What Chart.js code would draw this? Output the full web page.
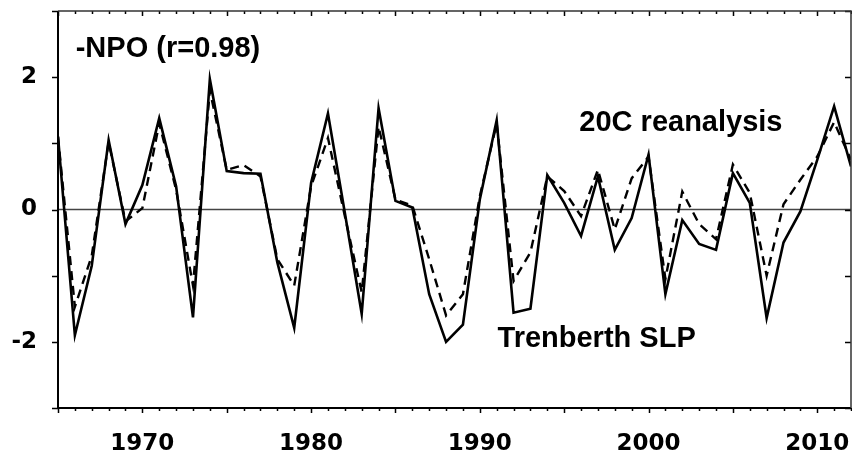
<!DOCTYPE html>
<html>
<head>
<meta charset="utf-8">
<script src="https://cdn.jsdelivr.net/npm/chart.js@4/dist/chart.umd.min.js"></script>
<style>
  html, body { margin: 0; padding: 0; background: #ffffff; }
  #npo-chart { display: block; }
</style>
</head>
<body>
<canvas id="npo-chart" width="852" height="459"></canvas>
<script>
// years on the x axis
var years = [1965, 1966, 1967, 1968, 1969, 1970, 1971, 1972, 1973, 1974,
             1975, 1976, 1977, 1978, 1979, 1980, 1981, 1982, 1983, 1984,
             1985, 1986, 1987, 1988, 1989, 1990, 1991, 1992, 1993, 1994,
             1995, 1996, 1997, 1998, 1999, 2000, 2001, 2002, 2003, 2004,
             2005, 2006, 2007, 2008, 2009, 2010, 2011, 2012];

// solid line
var trenberth_slp = [1.10, -1.90, -0.85, 1.05, -0.22, 0.37, 1.38, 0.35, -1.63, 1.97,
                     0.58, 0.55, 0.54, -0.80, -1.79, 0.40, 1.45, -0.05, -1.58, 1.53,
                     0.13, 0.03, -1.28, -2.00, -1.74, 0.15, 1.35, -1.56, -1.50, 0.52,
                     0.10, -0.40, 0.50, -0.61, -0.13, 0.83, -1.28, -0.16, -0.52, -0.61,
                     0.55, 0.10, -1.64, -0.50, -0.03, 0.75, 1.56, 0.65];

// dashed line
var reanalysis_20c = [1.10, -1.47, -0.70, 1.02, -0.18, 0.02, 1.30, 0.30, -1.15, 1.80,
                      0.60, 0.67, 0.50, -0.75, -1.15, 0.35, 1.08, -0.10, -1.25, 1.25,
                      0.15, 0.06, -0.75, -1.60, -1.28, 0.20, 1.30, -1.08, -0.65, 0.50,
                      0.28, -0.10, 0.60, -0.30, 0.47, 0.80, -1.05, 0.27, -0.22, -0.45,
                      0.68, 0.25, -1.00, 0.08, 0.45, 0.80, 1.32, 0.75];

var x_labels = [1970, 1980, 1990, 2000, 2010];
var y_labels = [-2, 0, 2];

// text written inside the plot, placed in data units
var notes = [
    { text: "-NPO (r=0.98)", x: 1966.05, y: 2.31 },
    { text: "20C reanalysis", x: 1995.9, y: 1.19 },
    { text: "Trenberth SLP", x: 1991.05, y: -2.08 }
];

function toPoints(values) {
    var pts = [];
    for (var i = 0; i < years.length; i++) {
        pts.push({ x: years[i], y: values[i] });
    }
    return pts;
}

function noPadding(scale) {
    scale.paddingTop = 0;
    scale.paddingBottom = 0;
    scale.paddingLeft = 0;
    scale.paddingRight = 0;
}

// ticks, zero line, frame and notes
var decorations = {
    id: "decorations",
    beforeDatasetsDraw: function (chart) {
        var ctx = chart.ctx;
        var a = chart.chartArea;
        var y0 = chart.scales.y.getPixelForValue(0);
        ctx.save();
        ctx.strokeStyle = "#444444";
        ctx.lineWidth = 1.5;
        ctx.beginPath();
        ctx.moveTo(a.left, y0);
        ctx.lineTo(a.right, y0);
        ctx.stroke();
        ctx.restore();
    },
    afterDraw: function (chart) {
        var ctx = chart.ctx;
        var a = chart.chartArea;
        var xs = chart.scales.x;
        var ys = chart.scales.y;
        ctx.save();
        ctx.strokeStyle = "#000000";
        ctx.lineWidth = 1.5;
        ctx.beginPath();
        for (var yr = xs.min; yr <= xs.max; yr++) {
            var px = Math.round(xs.getPixelForValue(yr)) + 0.5;
            var len = (yr % 5 === 0) ? 5 : 3;
            ctx.moveTo(px, a.bottom);
            ctx.lineTo(px, a.bottom + len);
            ctx.moveTo(px, a.top);
            ctx.lineTo(px, a.top + len);
        }
        for (var v = ys.min; v <= ys.max; v++) {
            var py = Math.round(ys.getPixelForValue(v)) + 0.5;
            ctx.moveTo(a.left - 6, py);
            ctx.lineTo(a.left, py);
            ctx.moveTo(a.right - 6, py);
            ctx.lineTo(a.right, py);
        }
        ctx.stroke();

        // frame
        ctx.lineWidth = 2;
        ctx.strokeStyle = "#000000";
        ctx.beginPath();
        ctx.moveTo(a.left, a.top);
        ctx.lineTo(a.left, a.bottom);
        ctx.lineTo(a.right, a.bottom);
        ctx.stroke();
        ctx.strokeStyle = "#333333";
        ctx.lineWidth = 1.5;
        ctx.beginPath();
        ctx.moveTo(a.left, a.top);
        ctx.lineTo(a.right, a.top);
        ctx.lineTo(a.right, a.bottom);
        ctx.stroke();

        ctx.fillStyle = "#000000";
        ctx.font = "bold 29px 'Liberation Sans', Arial, sans-serif";
        ctx.textAlign = "left";
        ctx.textBaseline = "alphabetic";
        notes.forEach(function (n) {
            ctx.fillText(n.text, xs.getPixelForValue(n.x), ys.getPixelForValue(n.y));
        });
        ctx.restore();
    }
};

new Chart(document.getElementById("npo-chart"), {
    type: "line",
    data: {
        datasets: [{
            label: "Trenberth SLP",
            data: toPoints(trenberth_slp),
            borderColor: "#000000",
            borderWidth: 2.6,
            pointRadius: 0,
            tension: 0,
            fill: false
        }, {
            label: "20C reanalysis",
            data: toPoints(reanalysis_20c),
            borderColor: "#000000",
            borderWidth: 2.4,
            borderDash: [9, 6],
            pointRadius: 0,
            tension: 0,
            fill: false
        }]
    },
    options: {
        responsive: false,
        animation: false,
        layout: { padding: { top: 11, right: 1, left: 0, bottom: 0 } },
        plugins: {
            legend: { display: false },
            tooltip: { enabled: false }
        },
        scales: {
            x: {
                type: "linear",
                min: 1965,
                max: 2012,
                grid: { display: false, drawTicks: false },
                border: { display: false },
                ticks: {
                    autoSkip: false,
                    maxRotation: 0,
                    padding: 22,
                    color: "#000000",
                    font: { family: "'DejaVu Sans', Verdana, sans-serif", size: 23, weight: "bold" },
                    callback: function (value) { return String(value); }
                },
                afterBuildTicks: function (scale) {
                    scale.ticks = x_labels.map(function (v) { return { value: v }; });
                },
                afterFit: function (scale) {
                    scale.height = 51;
                    noPadding(scale);
                }
            },
            y: {
                min: -3,
                max: 3,
                grid: { display: false, drawTicks: false },
                border: { display: false },
                ticks: {
                    autoSkip: false,
                    padding: 21,
                    color: "#000000",
                    font: { family: "'DejaVu Sans', Verdana, sans-serif", size: 23, weight: "bold" },
                    callback: function (value) { return String(value); }
                },
                afterBuildTicks: function (scale) {
                    scale.ticks = y_labels.map(function (v) { return { value: v }; });
                },
                afterFit: function (scale) {
                    scale.width = 58;
                    noPadding(scale);
                }
            }
        }
    },
    plugins: [decorations]
});
</script>
</body>
</html>
